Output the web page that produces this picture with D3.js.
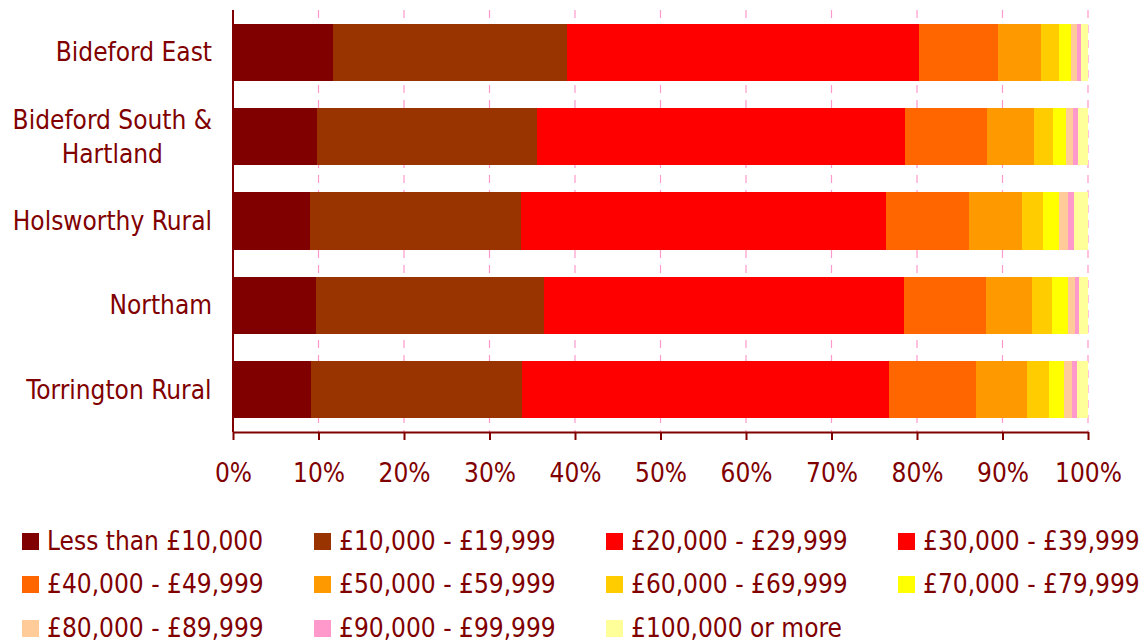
<!DOCTYPE html>
<html>
<head>
<meta charset="utf-8">
<script src="https://cdn.jsdelivr.net/npm/d3@7"></script>
<style>
  html, body { margin: 0; padding: 0; background: #fff; }
  svg text { font-family: "DejaVu Sans Condensed", "DejaVu Sans", sans-serif; font-stretch: condensed; fill: #800000; }
</style>
</head>
<body>
<svg id="chart" width="1141" height="644"></svg>
<script>
const categories = ["Bideford East", "Bideford South & Hartland", "Holsworthy Rural", "Northam", "Torrington Rural"];
const seriesNames = ["Less than £10,000", "£10,000 - £19,999", "£20,000 - £29,999", "£30,000 - £39,999",
  "£40,000 - £49,999", "£50,000 - £59,999", "£60,000 - £69,999", "£70,000 - £79,999",
  "£80,000 - £89,999", "£90,000 - £99,999", "£100,000 or more"];
const seriesColors = ["#800000", "#993300", "#FF0000", "#FF0000", "#FF6600", "#FF9900", "#FFCC00", "#FFFF00", "#FFCC99", "#FF99CC", "#FFFF99"];
// values in % per category, one array per series
const lessThan10k = [11.7, 9.8, 9.0, 9.7, 9.1];
const from10k = [27.4, 25.8, 24.7, 26.7, 24.7];
const from20k = [22.6, 23.4, 23.5, 22.8, 23.6];
const from30k = [18.5, 19.6, 19.2, 19.3, 19.3];
const from40k = [9.3, 9.6, 9.7, 9.6, 10.2];
const from50k = [5.0, 5.5, 6.2, 5.4, 6.0];
const from60k = [2.1, 2.2, 2.4, 2.3, 2.5];
const from70k = [1.4, 1.5, 1.9, 1.9, 1.8];
const from80k = [0.7, 0.8, 1.1, 0.8, 0.9];
const from90k = [0.5, 0.6, 0.7, 0.4, 0.6];
const from100k = [0.8, 1.2, 1.6, 1.1, 1.3];
const seriesValues = [lessThan10k, from10k, from20k, from30k, from40k, from50k, from60k, from70k, from80k, from90k, from100k];
const xTicks = [0, 10, 20, 30, 40, 50, 60, 70, 80, 90, 100];

const svg = d3.select("#chart");
const plotL = 233, plotR = 1088, plotT = 10, plotB = 432;
const fs = 26;

const table = categories.map((c, i) => {
  const row = { category: c };
  seriesNames.forEach((s, j) => row[s] = seriesValues[j][i]);
  return row;
});
const stack = d3.stack().keys(seriesNames).offset(d3.stackOffsetExpand);
const stacked = stack(table);

const x = d3.scaleLinear().domain([0, 1]).range([plotL, plotR]);
const y = d3.scaleBand().domain(categories).range([plotT, plotB]).paddingInner(0.32).paddingOuter(0.16);
const color = d3.scaleOrdinal().domain(seriesNames).range(seriesColors);

// gridlines
svg.append("g").selectAll("line").data(xTicks.slice(1)).join("line")
  .attr("x1", d => x(d / 100)).attr("x2", d => x(d / 100))
  .attr("y1", plotT).attr("y2", plotB)
  .attr("stroke", "#FF99CC").attr("stroke-width", 1.2).attr("stroke-dasharray", "8,7");

// bars
svg.append("g").selectAll("g").data(stacked).join("g")
  .attr("fill", d => color(d.key))
  .selectAll("rect").data(d => d).join("rect")
  .attr("x", d => x(d[0]))
  .attr("width", d => x(d[1]) - x(d[0]))
  .attr("y", d => y(d.data.category))
  .attr("height", y.bandwidth())
  .attr("shape-rendering", "crispEdges");

// x axis
const xAxis = d3.axisBottom(x).tickValues(xTicks.map(t => t / 100)).tickFormat(d => Math.round(d * 100) + "%").tickSize(8).tickSizeOuter(0);
const gx = svg.append("g").attr("transform", `translate(0,${plotB})`).call(xAxis);
gx.attr("font-family", null).attr("font-size", null);
gx.select(".domain").attr("stroke", "#800000").attr("stroke-width", 2);
gx.selectAll(".tick line").attr("stroke", "#800000").attr("stroke-width", 2);
gx.selectAll(".tick text").attr("font-size", fs).attr("dy", 0).attr("y", 50);

// y axis line
svg.append("line").attr("x1", plotL).attr("x2", plotL).attr("y1", plotT).attr("y2", plotB)
  .attr("stroke", "#800000").attr("stroke-width", 2);

// y labels
const labelLines = { "Bideford South & Hartland": ["Bideford South &", "Hartland"] };
const yl = svg.append("g");
categories.forEach(c => {
  const lines = labelLines[c] || [c];
  const cy = y(c) + y.bandwidth() / 2;
  const g = yl.append("text").attr("font-size", fs).attr("text-anchor", "middle");
  lines.forEach((l, i) => {
    g.append("tspan").attr("x", 0).attr("y", cy + 9 + (i - (lines.length - 1) / 2) * 34).text(l);
  });
  const w = g.node().getBBox().width;
  g.attr("transform", `translate(${212 - w / 2},0)`);
});

// legend
const legCols = [22, 314, 606, 898];
const legRows = [533, 576, 620];
const leg = svg.append("g");
seriesNames.forEach((s, i) => {
  const cx = legCols[i % 4], ry = legRows[Math.floor(i / 4)];
  leg.append("rect").attr("x", cx).attr("y", ry).attr("width", 17).attr("height", 17).attr("fill", seriesColors[i]);
  leg.append("text").attr("x", cx + 25).attr("y", ry + 17).attr("font-size", fs).text(s);
});
</script>
</body>
</html>
